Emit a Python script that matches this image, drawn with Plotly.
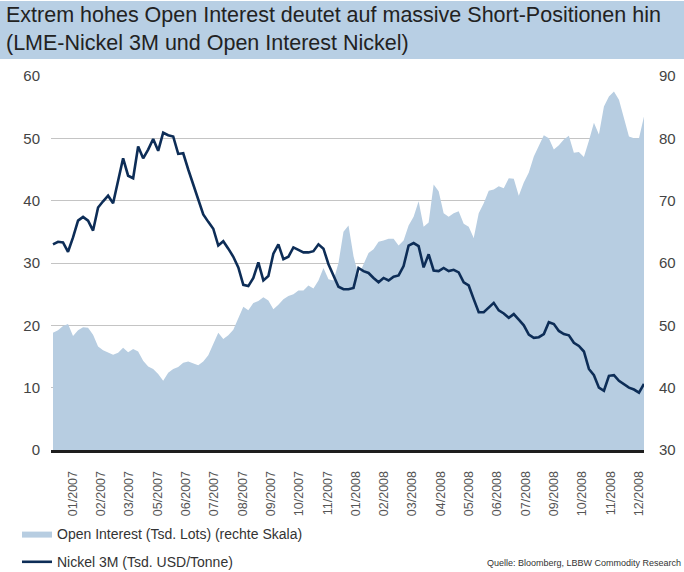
import numpy as np
import plotly.graph_objects as go

# Nickel 3M (Tsd. USD/Tonne), left axis
nickel = [
    33.0, 33.4, 33.3, 31.8, 34.1, 36.8, 37.4, 36.8, 35.2, 38.9,
    39.9, 40.8, 39.6, 43.3, 46.8, 44.0, 43.6, 48.7, 46.8, 48.2,
    49.9, 48.0, 50.9, 50.5, 50.3, 47.5, 47.6, 45.0, 42.5, 40.0,
    37.8, 36.6, 35.5, 32.8, 33.5, 32.3, 31.0, 29.3, 26.5, 26.3,
    27.6, 30.1, 27.2, 27.9, 31.5, 33.0, 30.6, 31.0, 32.5, 32.1,
    31.7, 31.7, 31.9, 33.0, 32.3, 29.8, 27.9, 26.2, 25.8, 25.8,
    26.0, 29.2, 28.7, 28.4, 27.6, 26.9, 27.6, 27.2, 27.8, 28.0,
    29.5, 32.8, 33.2, 32.7, 29.3, 31.4, 28.8, 28.7, 29.2, 28.7,
    28.9, 28.5, 26.9, 26.4, 24.2, 22.1, 22.1, 22.9, 23.6, 22.4,
    21.9, 21.2, 21.8, 20.9, 20.0, 18.5, 18.0, 18.1, 18.6, 20.5,
    20.2, 19.1, 18.6, 18.4, 17.2, 16.7, 15.8, 13.0, 12.0, 10.0,
    9.5, 11.9, 12.0, 11.1, 10.6, 10.0, 9.7, 9.2, 10.6,
]

# Open Interest (Tsd. Lots), right axis
open_interest = [
    48.8, 49.2, 49.9, 50.2, 48.3, 49.2, 49.7, 49.6, 48.5, 46.6,
    46.0, 45.6, 45.3, 45.6, 46.4, 45.7, 46.2, 45.8, 44.3, 43.4,
    43.0, 42.2, 41.1, 42.4, 43.0, 43.3, 44.0, 44.2, 43.9, 43.6,
    44.2, 45.2, 47.0, 48.8, 47.8, 48.4, 49.3, 51.2, 53.0, 52.4,
    53.6, 53.9, 54.5, 54.0, 52.6, 53.3, 54.2, 54.7, 55.0, 55.6,
    55.6, 56.4, 55.9, 57.2, 59.2, 57.4, 57.2, 60.0, 65.0, 66.0,
    61.1, 58.0, 59.8, 61.6, 62.2, 63.4, 63.6, 63.9, 63.9, 62.8,
    63.6, 66.0, 67.4, 69.9, 65.8, 66.5, 72.6, 71.5, 68.0, 67.4,
    68.0, 68.3, 66.3, 65.8, 64.0, 68.0, 69.6, 71.6, 71.8, 72.3,
    72.0, 73.6, 73.5, 70.8, 72.9, 74.5, 77.1, 78.7, 80.5, 80.0,
    78.2, 78.9, 79.8, 80.4, 77.7, 77.8, 77.0, 79.6, 82.5, 80.6,
    85.1, 86.7, 87.5, 86.2, 83.0, 80.3, 80.0, 80.0, 83.5,
]

tick_labels = [
    "01/2007", "02/2007", "03/2007", "05/2007", "06/2007", "07/2007",
    "08/2007", "09/2007", "10/2007", "11/2007", "01/2008", "02/2008",
    "03/2008", "04/2008", "05/2008", "06/2008", "07/2008", "09/2008",
    "10/2008", "11/2008", "12/2008",
]

title_lines = [
    "Extrem hohes Open Interest deutet auf massive Short-Positionen hin",
    "(LME-Nickel 3M und Open Interest Nickel)",
]

x = list(range(len(nickel)))
n = len(nickel)

AREA = "#b7cde1"
LINE = "#0d2d57"
TXT = "#444444"
FONT = "Liberation Sans"

fig = go.Figure()
fig.add_trace(go.Scatter(
    x=x, y=open_interest, yaxis="y", mode="lines",
    line=dict(width=0, color=AREA), fill="tozeroy", fillcolor=AREA,
    name="Open Interest (Tsd. Lots) (rechte Skala)", legendgroup="a",
    hoverinfo="skip",
))
fig.add_trace(go.Scatter(
    x=x, y=nickel, yaxis="y2", mode="lines",
    line=dict(width=2.6, color=LINE),
    name="Nickel 3M (Tsd. USD/Tonne)", legendgroup="b",
))

L, R, T, B = 51, 40, 76, 122
W, H = 684, 572
pw, ph = W - L - R, H - T - B

def px(xp):
    return (xp - L) / pw

def py(yp):
    return (H - B - yp) / ph

annotations = [dict(
    text="Quelle: Bloomberg, LBBW Commodity Research",
    xref="paper", yref="paper", x=px(683), y=py(563),
    xanchor="right", yanchor="middle", showarrow=False,
    font=dict(family=FONT, size=9, color="#333333"),
)]
for i, line in enumerate(title_lines):
    annotations.append(dict(
        text=line, xref="paper", yref="paper",
        x=px(4), y=py(15 + 28 * i), xanchor="left", yanchor="middle",
        showarrow=False, font=dict(family=FONT, size=21.5, color="#222222"),
    ))

fig.update_layout(
    width=W, height=H,
    margin=dict(l=L, r=R, t=T, b=B, pad=0, autoexpand=False),
    paper_bgcolor="white", plot_bgcolor="white",
    font=dict(family=FONT, color=TXT),
    xaxis=dict(
        range=[-0.4, n - 1],
        tickmode="array",
        tickvals=list(np.linspace(3.9, 117.0, len(tick_labels))),
        ticktext=tick_labels,
        tickangle=-90,
        tickfont=dict(size=12.5, color="#555555"),
        showgrid=False, zeroline=False,
        showline=True, linecolor="#1e1e1e", linewidth=3,
        ticks="", ticklabelstandoff=13, automargin=False,
        fixedrange=True,
    ),
    yaxis=dict(
        side="right", range=[30, 90], dtick=10,
        showgrid=True, gridcolor="#c4c4c4", gridwidth=1,
        zeroline=False, showline=False, ticks="",
        tickfont=dict(size=15, color=TXT),
        ticklabelstandoff=14, automargin=False,
    ),
    yaxis2=dict(
        side="left", overlaying="y", range=[0, 60], dtick=10,
        showgrid=False, zeroline=False, showline=False, ticks="",
        tickfont=dict(size=15, color=TXT),
        ticklabelstandoff=10, automargin=False,
    ),
    showlegend=True,
    legend=dict(
        x=px(17), y=py(518), xanchor="left", yanchor="top",
        orientation="v", font=dict(size=14, color="#333333"),
        tracegroupgap=7, itemwidth=30, bgcolor="rgba(0,0,0,0)",
    ),
    shapes=[dict(
        type="rect", xref="paper", yref="paper",
        x0=px(0), x1=px(W), y0=py(59), y1=py(1),
        fillcolor="#b8cfe4", line=dict(width=0), layer="below",
    )],
    annotations=annotations,
)

fig.write_html(
    "out.html",
    config={"displayModeBar": False},
    post_script="document.body.style.margin='0';",
)
